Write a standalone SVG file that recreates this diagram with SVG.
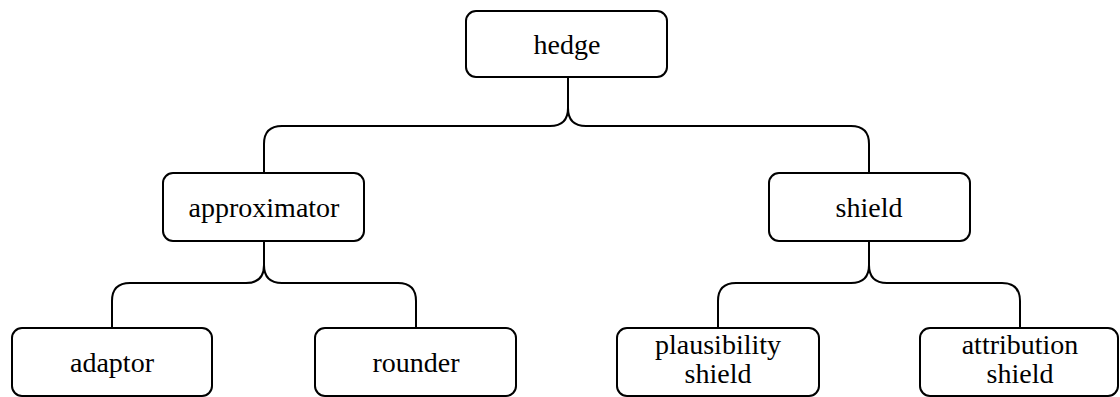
<svg xmlns="http://www.w3.org/2000/svg" width="1120" height="397" viewBox="0 0 1120 397">
<style>
.box{fill:#fff;stroke:#000;stroke-width:2}
.lbl{font-family:"Liberation Serif","DejaVu Serif",serif;font-size:28px;fill:#000;text-anchor:middle}
.conn{fill:none;stroke:#000;stroke-width:2}
</style>
<rect width="1120" height="397" fill="#fff"/>
<g id="connectors">
<path class="conn" d="M568,78 V108 Q568,126 550,126 H282 Q264,126 264,144 V172"/>
<path class="conn" d="M568,78 V108 Q568,126 586,126 H851 Q869,126 869,144 V172"/>
<path class="conn" d="M264,241 V265 Q264,283 246,283 H130 Q112,283 112,301 V328"/>
<path class="conn" d="M264,241 V265 Q264,283 282,283 H398 Q416,283 416,301 V328"/>
<path class="conn" d="M869,241 V265 Q869,283 851,283 H736 Q718,283 718,301 V328"/>
<path class="conn" d="M869,241 V265 Q869,283 887,283 H1002 Q1020,283 1020,301 V328"/>
</g>
<g id="hedge"><rect class="box" x="466" y="11" width="201" height="66" rx="10"/><text class="lbl" x="567" y="54">hedge</text></g>
<g id="approximator"><rect class="box" x="163" y="173" width="201" height="68" rx="10"/><text class="lbl" x="264" y="217">approximator</text></g>
<g id="shield"><rect class="box" x="769" y="173" width="201" height="68" rx="10"/><text class="lbl" x="869" y="217">shield</text></g>
<g id="adaptor"><rect class="box" x="12" y="328" width="200" height="68" rx="10"/><text class="lbl" x="112" y="372">adaptor</text></g>
<g id="rounder"><rect class="box" x="315" y="328" width="201" height="68" rx="10"/><text class="lbl" x="416" y="372">rounder</text></g>
<g id="plausibility-shield"><rect class="box" x="617" y="328" width="202" height="68" rx="10"/><text class="lbl" x="718" y="354">plausibility</text><text class="lbl" x="718" y="383">shield</text></g>
<g id="attribution-shield"><rect class="box" x="920" y="328" width="198" height="68" rx="10"/><text class="lbl" x="1020" y="354">attribution</text><text class="lbl" x="1020" y="383">shield</text></g>
</svg>
